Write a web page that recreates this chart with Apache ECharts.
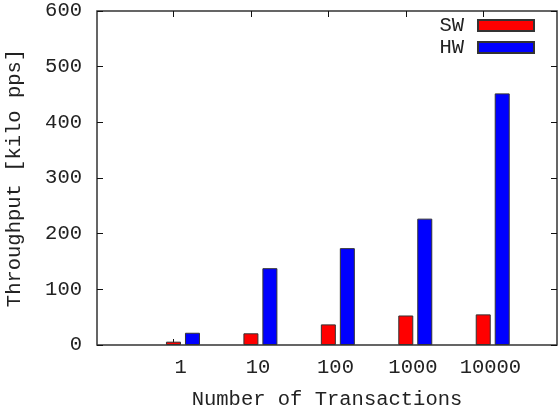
<!DOCTYPE html>
<html>
<head>
<meta charset="utf-8">
<script src="https://cdn.jsdelivr.net/npm/echarts@6/dist/echarts.min.js"></script>
<style>html,body{margin:0;padding:0;background:#fff}#c{width:560px;height:413px}</style>
</head>
<body>
<div id="c"></div>
<script>
var categories = ['1', '10', '100', '1000', '10000'];
var swValues = [6, 21, 37, 53, 55];
var hwValues = [22, 138, 174, 227, 452];

var FONT = '"Liberation Mono", "DejaVu Sans Mono", monospace';
var FS = 20.5;
var TXT = '#222';
var OFF = 0.1226;
var BAR_W = 15;
var idx = categories.map(function (c, i) { return i; });

var chart = echarts.init(document.getElementById('c'), null, {renderer: 'canvas'});
var xMin = -1.11, xMax = 4.83;
var tickStyle = {color: '#111', width: 1};
var opt = {
  animation: false,
  backgroundColor: '#fff',
  grid: {left: 97, right: 3, top: 11, bottom: 68, outerBoundsMode: 'none', containLabel: false,
    show: true, borderColor: '#333', borderWidth: 1.5, backgroundColor: 'transparent', z: 0},
  legend: {
    orient: 'vertical', right: 25, top: 15, padding: 0, align: 'right', icon: 'rect',
    itemWidth: 56, itemHeight: 11, itemGap: 1,
    textStyle: {fontFamily: FONT, fontSize: FS, color: TXT, lineHeight: 20, padding: [0, 9, 0, 0]},
    data: ['SW', 'HW']
  },
  xAxis: [{
    type: 'value', min: xMin, max: xMax, position: 'bottom',
    name: 'Number of Transactions', nameLocation: 'middle', nameGap: 44,
    nameTextStyle: {fontFamily: FONT, fontSize: FS, color: TXT},
    axisLine: {show: false, onZero: false}, splitLine: {show: false},
    axisTick: {show: true, inside: true, length: 6, lineStyle: tickStyle, customValues: idx.map(function (i) { return i - OFF; })},
    axisLabel: {fontFamily: FONT, fontSize: FS, color: TXT, margin: 12, customValues: idx.map(function (i) { return i - 0.03; }),
      formatter: function (v) { return categories[Math.round(v)]; }}
  }, {
    type: 'value', min: xMin, max: xMax, position: 'top',
    axisLine: {show: false, onZero: false}, splitLine: {show: false},
    axisTick: {show: true, inside: true, length: 6, lineStyle: tickStyle, customValues: idx.map(function (i) { return i - OFF; })},
    axisLabel: {show: false}
  }],
  yAxis: [{
    type: 'value', min: 0, max: 600, interval: 100, position: 'left',
    name: 'Throughput [kilo pps]', nameLocation: 'middle', nameGap: 72,
    nameTextStyle: {fontFamily: FONT, fontSize: FS, color: TXT},
    axisLine: {show: false, onZero: false}, splitLine: {show: false},
    axisTick: {show: true, inside: true, length: 6, lineStyle: tickStyle},
    axisLabel: {fontFamily: FONT, fontSize: FS, color: TXT, margin: 15}
  }, {
    type: 'value', min: 0, max: 600, interval: 100, position: 'right',
    axisLine: {show: false, onZero: false}, splitLine: {show: false},
    axisTick: {show: true, inside: true, length: 6, lineStyle: tickStyle},
    axisLabel: {show: false}
  }],
  series: [{
    name: 'SW', type: 'bar', xAxisIndex: 0, yAxisIndex: 0, barWidth: BAR_W, barGap: '-100%',
    itemStyle: {color: '#ff0000', borderColor: '#333', borderWidth: 1},
    data: swValues.map(function (v, i) { return [i - OFF, v]; })
  }, {
    name: 'HW', type: 'bar', xAxisIndex: 0, yAxisIndex: 0, barWidth: BAR_W, barGap: '-100%',
    itemStyle: {color: '#0000ff', borderColor: '#333', borderWidth: 1},
    data: hwValues.map(function (v, i) { return [i + OFF, v]; })
  }]
};
chart.setOption(opt);
</script>
</body>
</html>
